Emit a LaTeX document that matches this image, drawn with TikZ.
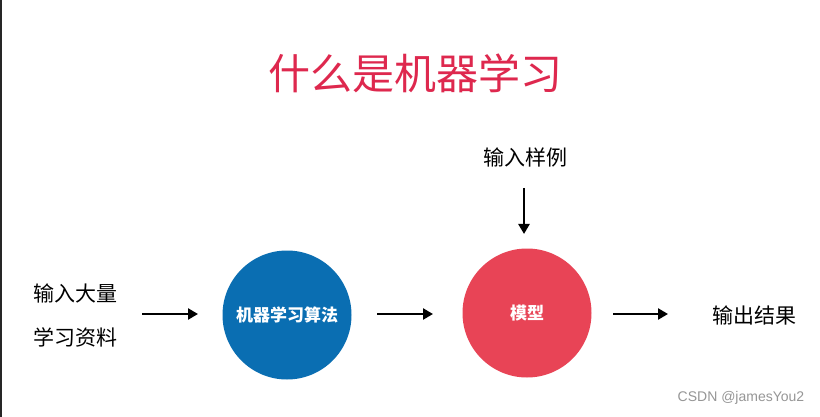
\documentclass[tikz,border=0pt]{standalone}
\usepackage{fontspec}
\setmainfont{Liberation Sans}
\newfontfamily\cjk{Noto Sans CJK SC}
\usetikzlibrary{arrows.meta}
\definecolor{titlered}{RGB}{222,40,78}
\definecolor{algblue}{RGB}{10,110,178}
\definecolor{modelred}{RGB}{232,68,86}
\definecolor{wmgray}{RGB}{150,150,150}
\tikzset{
  flow/.style={line width=2.8pt,-{Triangle[length=10pt,width=11pt]}},
  lbl/.style={font=\cjk\fontsize{21}{25}\selectfont,inner sep=0pt},
  blob/.style={circle,minimum size=129pt,inner sep=0pt,text=white,font=\cjk\bfseries\fontsize{17}{20}\selectfont},
}
\begin{document}
\begin{tikzpicture}[x=1pt,y=-1pt]
\useasboundingbox (0,0) rectangle (820,417);
\fill[white] (0,0) rectangle (820,417);
\fill[black!85] (0,0) rectangle (2,417);
\node[inner sep=0pt,text=titlered,font=\cjk\fontsize{42}{48}\selectfont] (title) at (415,73) {什么是机器学习};
\node[lbl,align=left,anchor=west] (inA) at (33,293) {输入大量};
\node[lbl,align=left,anchor=west] (inB) at (33,337) {学习资料};
\coordinate (a1s) at (142,314);
\coordinate (a1e) at (198,314);
\node[blob,fill=algblue] (alg) at (287,315) {机器学习算法};
\node[blob,fill=modelred] (model) at (527,313) {模型};
\node[lbl] (sample) at (525,157) {输入样例};
\node[lbl] (out) at (754,315) {输出结果};
\coordinate (a2s) at (377,314);
\coordinate (a2e) at (433,314);
\coordinate (a3s) at (613,314);
\coordinate (a3e) at (668,314);
\coordinate (a4s) at (524,188);
\coordinate (a4e) at (524,234);
\draw[flow] (a1s) -- (a1e);
\draw[flow] (a2s) -- (a2e);
\draw[flow] (a3s) -- (a3e);
\draw[flow] (a4s) -- (a4e);
\node[inner sep=0pt,text=wmgray,font=\fontsize{14}{16}\selectfont] (wm) at (741,398) {CSDN @jamesYou2};
\end{tikzpicture}
\end{document}
